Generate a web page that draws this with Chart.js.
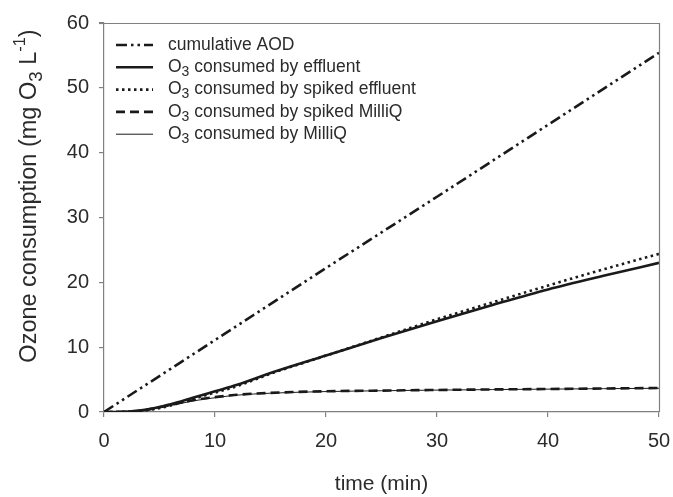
<!DOCTYPE html>
<html>
<head>
<meta charset="utf-8">
<script src="https://cdn.jsdelivr.net/npm/chart.js@4"></script>
<style>
  html, body { margin: 0; padding: 0; background: #fff; }
  #wrap { width: 673px; height: 497px; }
</style>
</head>
<body>
<div id="wrap"><canvas id="c"></canvas></div>
<script>
// data
const timeAOD = [0, 10, 20, 30, 40, 50];
const aod = [0, 11.1, 22.2, 33.2, 44.3, 55.4];

const timeO3 = [0, 2, 4, 6, 8, 10, 12, 15, 20, 25, 30, 35, 40, 45, 50];
const effluent =       [0, 0.05, 0.4, 1.2, 2.2, 3.2, 4.2, 6.0, 8.7, 11.4, 14.0, 16.5, 18.9, 21.0, 23.0];
const spikedEffluent = [0, 0.05, 0.3, 1.0, 2.0, 3.0, 4.0, 5.9, 8.7, 11.5, 14.3, 16.9, 19.5, 22.0, 24.4];
const spikedMilliQ =   [0, 0.05, 0.4, 1.1, 1.8, 2.3, 2.65, 2.95, 3.2, 3.3, 3.4, 3.48, 3.55, 3.62, 3.7];
const milliQ =         [0, 0.05, 0.35, 1.0, 1.7, 2.2, 2.6, 2.9, 3.15, 3.28, 3.38, 3.46, 3.53, 3.6, 3.66];

const xTicks = [0, 10, 20, 30, 40, 50];
const yTicks = [0, 10, 20, 30, 40, 50, 60];

const pts = (xs, ys) => xs.map((x, i) => ({x: x, y: ys[i]}));
const ink = '#1a1a1a';
const axisCol = '#808080';
const txtCol = '#2b2b2b';
const FONT = '"Liberation Sans", Arial, sans-serif';

const series = [
    {label: 'cumulative AOD', data: pts(timeAOD, aod), dash: [11, 4, 2.5, 4, 2.5, 4], width: 2.6},
    {label: 'O3 consumed by effluent', data: pts(timeO3, effluent), dash: [], width: 2.6},
    {label: 'O3 consumed by spiked effluent', data: pts(timeO3, spikedEffluent), dash: [2.5, 3.5], width: 2.6},
    {label: 'O3 consumed by spiked MilliQ', data: pts(timeO3, spikedMilliQ), dash: [9, 5], width: 2.6},
    {label: 'O3 consumed by MilliQ', data: pts(timeO3, milliQ), dash: [], width: 1}
];

// draws text where "O3" gets a subscript 3 and "-1" a superscript
function richText(ctx, parts, x, y, size) {
    parts.forEach(p => {
        let s = size, dy = 0;
        if (p.sub) { s = size * 0.8; dy = size * 0.28; }
        if (p.sup) { s = size * 0.7; dy = -size * 0.4; }
        ctx.font = s + 'px ' + FONT;
        ctx.fillText(p.t, x, y + dy);
        x += ctx.measureText(p.t).width;
    });
    return x;
}
function splitO3(label) {
    if (label.startsWith('O3')) return [{t: 'O'}, {t: '3', sub: true}, {t: label.slice(2)}];
    return [{t: label}];
}
function richWidth(ctx, parts, size) {
    let w = 0;
    parts.forEach(p => {
        const s = p.sub ? size * 0.8 : p.sup ? size * 0.7 : size;
        ctx.font = s + 'px ' + FONT;
        w += ctx.measureText(p.t).width;
    });
    return w;
}

const framePlugin = {
    id: 'frame',
    afterDraw(chart) {
        const {ctx, chartArea: a} = chart;
        ctx.save();
        ctx.strokeStyle = axisCol;
        ctx.lineWidth = 1.2;
        ctx.beginPath();
        ctx.moveTo(a.left, a.top + 0.5);
        ctx.lineTo(a.right + 0.5, a.top + 0.5);
        ctx.lineTo(a.right + 0.5, a.bottom);
        ctx.stroke();
        ctx.beginPath();
        ctx.moveTo(a.left - 5, a.top + 0.5);
        ctx.lineTo(a.left, a.top + 0.5);
        ctx.stroke();

        // legend
        ctx.fillStyle = txtCol;
        ctx.textBaseline = 'middle';
        chart.data.datasets.forEach((ds, i) => {
            const y = 45 + i * 22.3;
            ctx.strokeStyle = ink;
            ctx.lineWidth = ds.borderWidth;
            ctx.setLineDash(ds.borderDash);
            ctx.beginPath();
            ctx.moveTo(116, y);
            ctx.lineTo(153, y);
            ctx.stroke();
            ctx.setLineDash([]);
            richText(ctx, splitO3(ds.label), 168, y, 17.5);
        });

        // y axis title
        const parts = [{t: 'Ozone consumption (mg O'}, {t: '3', sub: true}, {t: ' L'}, {t: '-1', sup: true}, {t: ')'}];
        const size = 23.5;
        const w = richWidth(ctx, parts, size);
        ctx.translate(30, 196);
        ctx.rotate(-Math.PI / 2);
        ctx.textBaseline = 'middle';
        richText(ctx, parts, -w / 2, 0, size);
        ctx.restore();
    }
};

new Chart(document.getElementById('c'), {
    type: 'line',
    data: {
        datasets: series.map(s => ({
            label: s.label,
            data: s.data,
            borderColor: ink,
            borderWidth: s.width,
            borderDash: s.dash,
            pointRadius: 0,
            cubicInterpolationMode: 'monotone',
            fill: false
        }))
    },
    options: {
        responsive: true,
        maintainAspectRatio: false,
        animation: false,
        layout: {padding: {top: 23, right: 14, left: 0, bottom: 0}},
        plugins: {legend: {display: false}, tooltip: {enabled: false}},
        scales: {
            x: {
                type: 'linear',
                min: xTicks[0],
                max: xTicks[xTicks.length - 1],
                afterBuildTicks: sc => { sc.ticks = xTicks.map(v => ({value: v})); },
                afterFit: sc => { sc.height = 85; sc.paddingLeft = 0; sc.paddingRight = 0; },
                grid: {drawOnChartArea: false, drawTicks: true, tickLength: 5, color: axisCol, lineWidth: 1.2},
                border: {color: axisCol, width: 1.2},
                ticks: {color: txtCol, font: {family: FONT, size: 20}, padding: 12, maxRotation: 0},
                title: {display: true, text: 'time (min)', color: txtCol, font: {family: FONT, size: 21}, padding: {top: 14, bottom: 0}}
            },
            y: {
                min: yTicks[0],
                max: yTicks[yTicks.length - 1],
                afterBuildTicks: sc => { sc.ticks = yTicks.map(v => ({value: v})); },
                afterFit: sc => { sc.width = 104; sc.paddingTop = 0; sc.paddingBottom = 0; },
                grid: {drawOnChartArea: false, drawTicks: true, tickLength: 5, color: axisCol, lineWidth: 1.2},
                border: {color: axisCol, width: 1.2},
                ticks: {color: txtCol, font: {family: FONT, size: 20}, padding: 10}
            }
        }
    },
    plugins: [framePlugin]
});
</script>
</body>
</html>
